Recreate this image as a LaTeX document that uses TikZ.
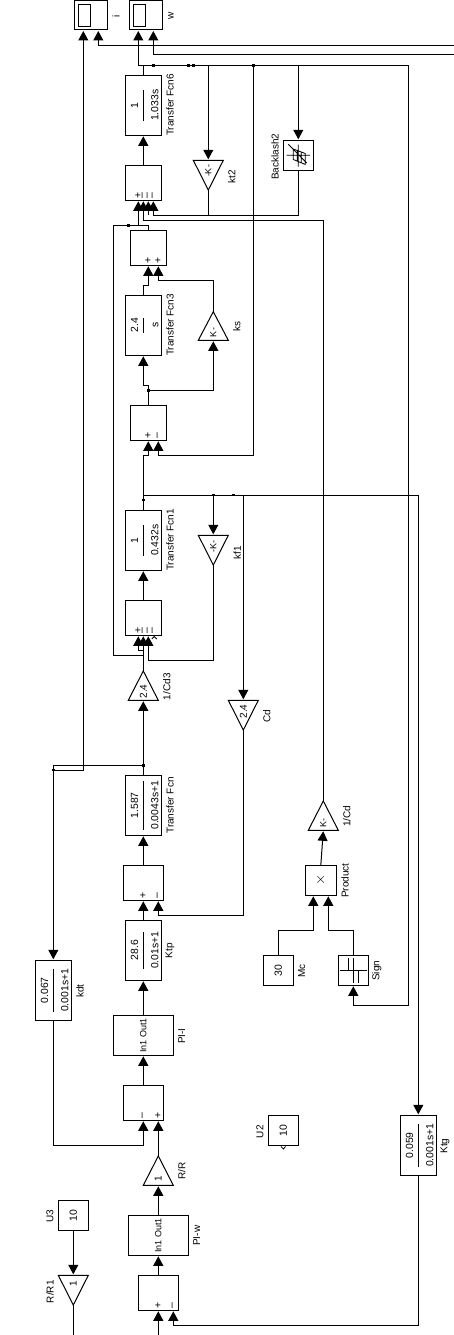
\documentclass[tikz,border=0pt]{standalone}
\usepackage{fontspec}
\setmainfont{Liberation Sans}
\usetikzlibrary{arrows.meta}
\tikzset{
  wire/.style={line width=1pt,line join=miter},
  arr/.style={wire,-{Triangle[length=9.5pt,width=10pt]},shorten >=1pt},
  blk/.style={draw,line width=1pt,inner sep=0pt,outer sep=0pt,font=\fontsize{10.4}{10.4}\selectfont,fill=white},
  lab/.style={inner sep=0pt,font=\fontsize{10}{10}\selectfont,rotate=90},
  sml/.style={inner sep=0pt,font=\fontsize{9}{9}\selectfont,rotate=90},
  sgn/.style={inner sep=0pt,font=\fontsize{10.5}{10.5}\selectfont,rotate=90},
  dot/.style={fill=black,inner sep=0pt,minimum size=2.8pt,outer sep=0pt},
  icon/.style={line width=0.8pt}
}
\newcommand\bx[6]{\pgfmathsetmacro\bxw{#4-#2}\pgfmathsetmacro\bxh{#5-#3}\node[blk,minimum width=\bxw pt,minimum height=\bxh pt] (#1) at ({(#2+#4)/2},{(#3+#5)/2}) {#6};}
\newcommand\gn[6]{\draw[wire,fill=white] ({#2-15},#3) -- ({#2+15},#3) -- (#2,#4) -- cycle;
  \coordinate (#1-base) at (#2,#3); \coordinate (#1-apex) at (#2,#4);
  \node[sml] (#1) at (#2,#6) {#5};}
\newcommand\fr[2]{\makebox[0pt][c]{\rotatebox{90}{\renewcommand\arraystretch{0}\setlength\arrayrulewidth{0.9pt}\begin{tabular}{@{}c@{}}\rule[-4.7pt]{0pt}{19.3pt}#1\\\hline\rule[-4.7pt]{0pt}{19.3pt}#2\end{tabular}}}}
\newcommand\rt[1]{\rotatebox{90}{#1}}
\begin{document}
\begin{tikzpicture}[x=1pt,y=-1pt]
\useasboundingbox (0,0) rectangle (454,1335);
% blocks
\bx{scI}{74.3}{0.5}{107.3}{30}{}
\bx{scW}{129.3}{0.5}{162.3}{30}{}
\node[blk,minimum width=12.4pt,minimum height=22.4pt] (scIin) at (84.5,15.5) {};
\node[blk,minimum width=12.4pt,minimum height=22.4pt] (scWin) at (139.5,15.5) {};
\bx{tfsix}{125.3}{75.3}{161.3}{135.3}{\fr{1}{1.033s}}
\bx{sumA}{125.3}{165.3}{161.3}{200.3}{}
\bx{blash}{283.3}{140.3}{313.3}{170.3}{}
\bx{sumB}{130.3}{230.3}{166.3}{265.3}{}
\bx{tfthree}{125.3}{295.3}{161.3}{355.3}{\fr{2.4}{s}}
\bx{sumC}{130.3}{405.3}{166.3}{440.3}{}
\bx{tfone}{125.3}{510.3}{161.3}{570.3}{\fr{1}{0.432s}}
\bx{sumD}{125.3}{600.3}{161.3}{635.3}{}
\bx{tfn}{125.3}{775.3}{161.3}{835.3}{\fr{1.587}{0.0043s+1}}
\bx{sumE}{123.3}{865.3}{163.3}{900.3}{}
\bx{ktp}{125.3}{920.3}{161.3}{980.3}{\fr{28.6}{0.01s+1}}
\bx{pii}{113.3}{1015.3}{173.3}{1055.3}{\fontsize{9}{9}\selectfont\raisebox{-2pt}{\rt{In1 Out1}}}
\bx{kdt}{35.3}{960.3}{71.3}{1020.3}{\fr{0.067}{0.001s+1}}
\bx{sumF}{123.3}{1085.3}{163.3}{1120.3}{}
\bx{piw}{128.3}{1215.3}{188.3}{1255.3}{\fontsize{9}{9}\selectfont\raisebox{-2pt}{\rt{In1 Out1}}}
\bx{sumG}{138.3}{1275.3}{178.3}{1310.3}{}
\bx{prod}{305.3}{865.3}{336.3}{895.3}{\fontsize{14}{14}\selectfont$\times$}
\bx{mc}{263.3}{955.3}{293.3}{985.3}{\rt{30}}
\bx{sign}{338.3}{955.3}{368.3}{985.3}{}
\bx{ktg}{400.3}{1115.3}{436.3}{1175.3}{\fr{0.059}{0.001s+1}}
\bx{utwo}{268.3}{1115.3}{298.3}{1145.3}{\rt{10}}
\bx{uthree}{58.3}{1200.3}{88.3}{1230.3}{\rt{10}}
% gains
\gn{gkt}{208.3}{160.3}{190}{-K-}{171}
\gn{gks}{213.3}{340.3}{311.7}{K-}{332.5}
\gn{gkf}{213.3}{535.3}{565}{-K-}{546}
\gn{gcdt}{143.3}{700.3}{671}{\fontsize{10}{10}\selectfont 2.4}{691.5}
\gn{gcd}{243.3}{700.3}{730}{\fontsize{10}{10}\selectfont 2.4}{711.5}
\gn{gcdi}{323.3}{830.3}{801}{K-}{822.5}
\gn{grr}{158.3}{1185.3}{1156}{\fontsize{10}{10}\selectfont 1}{1179}
\gn{grro}{73.3}{1275.3}{1305}{\fontsize{10}{10}\selectfont 1}{1284}
% icons
\draw[icon] (340,970) -- (366.7,970) (348.3,958) -- (348.3,970) (353.3,958) -- (353.3,982.7) (358.3,970) -- (358.3,982.7);
\draw[icon] (286.7,155.3) -- (310,155.3) (298.3,144.5) -- (298.3,166.5) (288.3,144.3) -- (306.7,163)
 (293.3,149) -- (293.3,159.5) -- (305.3,164.5) -- (305.3,153.5) -- cycle (297.3,150.5) -- (297.3,161) (301.3,152) -- (301.3,163);
\draw[icon] (151.8,639) -- (154.3,636.5) -- (156.8,639);
\draw[icon] (281,1146.5) -- (283.3,1149) -- (285.6,1146.5);
% labels
\node[lab] (lI) at (116,16) {i};
\node[lab] (lW) at (171,16) {w};
\node[lab] (ltfsix) at (170,105) {Transfer Fcn6};
\node[lab] (lkt) at (231.7,176.7) {kt2};
\node[lab] (lblash) at (275,156.7) {Backlash2};
\node[lab] (ltfthree) at (170,325) {Transfer Fcn3};
\node[lab] (lks) at (236.7,326) {ks};
\node[lab] (ltfone) at (170,540) {Transfer Fcn1};
\node[lab] (lkf) at (237.3,552.7) {kf1};
\node[lab] (lcdt) at (166.7,686.7) {1/Cd3};
\node[lab] (lcd) at (266.7,716) {Cd};
\node[lab] (ltfn) at (170,805.5) {Transfer Fcn};
\node[lab] (lktp) at (170,950.7) {Ktp};
\node[lab] (lpii) at (181.7,1036) {PI-I};
\node[lab] (lkdt) at (80,991) {kdt};
\node[lab] (lcdi) at (346.7,816) {1/Cd};
\node[lab] (lprod) at (345,880.7) {Product};
\node[lab] (lmc) at (301.7,970.7) {Mc};
\node[lab] (lsign) at (376.7,970.7) {Sign};
\node[lab] (lrr) at (181.7,1171) {R/R};
\node[lab] (lpiw) at (196.7,1235.7) {PI-w};
\node[lab] (lutwo) at (260,1131.7) {U2};
\node[lab] (luthree) at (50,1216) {U3};
\node[lab] (lrro) at (50,1291.7) {R/R1};
\node[lab] (lktg) at (445,1146) {Ktg};
% signs
\node[sgn] (a1) at (138.3,195.7) {+};
\node[sgn] (a2) at (143.3,195.7) {–};
\node[sgn] (a3) at (148.3,195.7) {–};
\node[sgn] (a4) at (153.3,195.7) {–};
\node[sgn] (b1) at (148.3,260.3) {+};
\node[sgn] (b2) at (158.3,260.3) {+};
\node[sgn] (c1) at (148.3,435.3) {+};
\node[sgn] (c2) at (158.3,435.3) {–};
\node[sgn] (d1) at (138.3,630.7) {+};
\node[sgn] (d2) at (143.3,630.7) {–};
\node[sgn] (d3) at (148.3,630.7) {–};
\node[sgn] (d4) at (153.3,630.7) {–};
\node[sgn] (e1) at (143.3,895.3) {+};
\node[sgn] (e2) at (158.3,895.3) {–};
\node[sgn] (f1) at (143.3,1115.7) {–};
\node[sgn] (f2) at (158.3,1115.7) {+};
\node[sgn] (g1) at (158.3,1305.7) {+};
\node[sgn] (g2) at (173.3,1305.7) {–};
% free ends and ports
\coordinate (edgeA) at (454,45.3);
\coordinate (edgeB) at (454,55);
\coordinate (edgeC) at (158.3,1335);
\coordinate (edgeD) at (73.3,1335);
\coordinate (pI1) at (83.3,30); \coordinate (pI2) at (98.3,30);
\coordinate (pW1) at (138.3,30); \coordinate (pW2) at (153.3,30);
\coordinate (pA1) at (138.3,200.3); \coordinate (pA2) at (143.3,200.3); \coordinate (pA3) at (148.3,200.3); \coordinate (pA4) at (153.3,200.3);
\coordinate (pB1) at (148.3,265.3); \coordinate (pB2) at (158.3,265.3);
\coordinate (pC1) at (148.3,440.3); \coordinate (pC2) at (158.3,440.3);
\coordinate (pD1) at (138.3,635.3); \coordinate (pD2) at (143.3,635.3); \coordinate (pD3) at (148.3,635.3);
\coordinate (pE1) at (143.3,900.3); \coordinate (pE2) at (158.3,900.3);
\coordinate (pF1) at (143.3,1120.3); \coordinate (pF2) at (158.3,1120.3);
\coordinate (pG1) at (158.3,1310.3); \coordinate (pG2) at (173.3,1310.3);
\coordinate (pP1) at (313.3,895.3); \coordinate (pP2) at (328.3,895.3);
\node[dot] (n1) at (153.3,65.3) {};
\node[dot] (n2) at (188.3,65.3) {};
\node[dot] (n3) at (193.3,65.3) {};
\node[dot] (n4) at (253.3,65.3) {};
\node[dot] (n5) at (128.3,225.3) {};
\node[dot] (n6) at (148.3,390.3) {};
\node[dot] (n7) at (143.3,500) {};
\node[dot] (n8) at (213.3,495) {};
\node[dot] (n9) at (233.3,495) {};
\node[dot] (n10) at (143.3,765.3) {};
\node[dot] (n11) at (53.3,770) {};
% connectors
\draw[arr] (edgeA) -| (pI2);
\draw[arr] (edgeB) -| (pW2);
\draw[arr] (tfsix.north) |- (138.3,65.3) -- (pW1);
\draw[arr] (138.3,65.3) -- (408.3,65.3) -- (408.3,1005.3) -| (sign.south);
\draw[arr] (208.3,65.3) -- (gkt-base);
\draw[arr] (n4.center) |- (158.3,455.3) -- (pC2);
\draw[arr] (298.3,65.3) -- (blash.north);
\draw[arr] (sumA.north) -- (tfsix.south);
\draw[arr] (blash.south) |- (153.3,215) -- (pA4);
\draw[wire] (gkt-apex) -- (208.3,215);
\draw[arr] (148.3,215) -- (pA3);
\draw[arr] (gcdi-apex) |- (143.3,220) -- (pA2);
\draw[arr] (sumB.north -| pB1) -- (148.3,225.3) -- (113.3,225.3) |- (143.3,655) -- (pD2);
\draw[arr] (138.3,225.3) -- (pA1);
\draw[arr] (tfthree.north) |- (148.3,285.3) -- (pB1);
\draw[arr] (gks-apex) |- (158.3,280.3) -- (pB2);
\draw[arr] (sumC.north -| pC1) -- (148.3,385) -- (143.3,385) -- (tfthree.south);
\draw[arr] (n6.center) -| (gks-base);
\draw[arr] (tfone.north) |- (148.3,455.3) -- (pC1);
\draw[arr] (143.3,495) -| (ktg.north);
\draw[arr] (n8.center) -- (gkf-base);
\draw[arr] (243.3,495) -- (gcd-base);
\draw[arr] (sumD.north) -- (tfone.south);
\draw[arr] (gkf-apex) |- (148.3,660) -- (pD3);
\draw[arr] (gcdt-apex) |- (138.3,650.7) -- (pD1);
\draw[arr] (tfn.north) -- (gcdt-base);
\draw[arr] (n10.center) -| (kdt.north);
\draw[arr] (n11.center) -| (pI1);
\draw[arr] (gcd-apex) |- (158.3,915.3) -- (pE2);
\draw[arr] (sumE.north) -- (tfn.south);
\draw[arr] (ktp.north) -- (pE1);
\draw[arr] (pii.north) -- (ktp.south);
\draw[arr] (sumF.north) -- (pii.south);
\draw[arr] (kdt.south) |- (143.3,1145.3) -- (pF1);
\draw[arr] (grr-apex) -- (pF2);
\draw[arr] (piw.north) -- (grr-base);
\draw[arr] (sumG.north) -- (piw.south);
\draw[arr] (edgeC) -- (pG1);
\draw[arr] (ktg.south) |- (173.3,1325.3) -- (pG2);
\draw[arr] (uthree.south) -- (grro-base);
\draw[wire] (grro-apex) -- (edgeD);
\draw[arr] (prod.north) -- (gcdi-base);
\draw[arr] (mc.north) |- (313.3,930.3) -- (pP1);
\draw[arr] (sign.north) |- (328.3,930.3) -- (pP2);
\end{tikzpicture}
\end{document}
